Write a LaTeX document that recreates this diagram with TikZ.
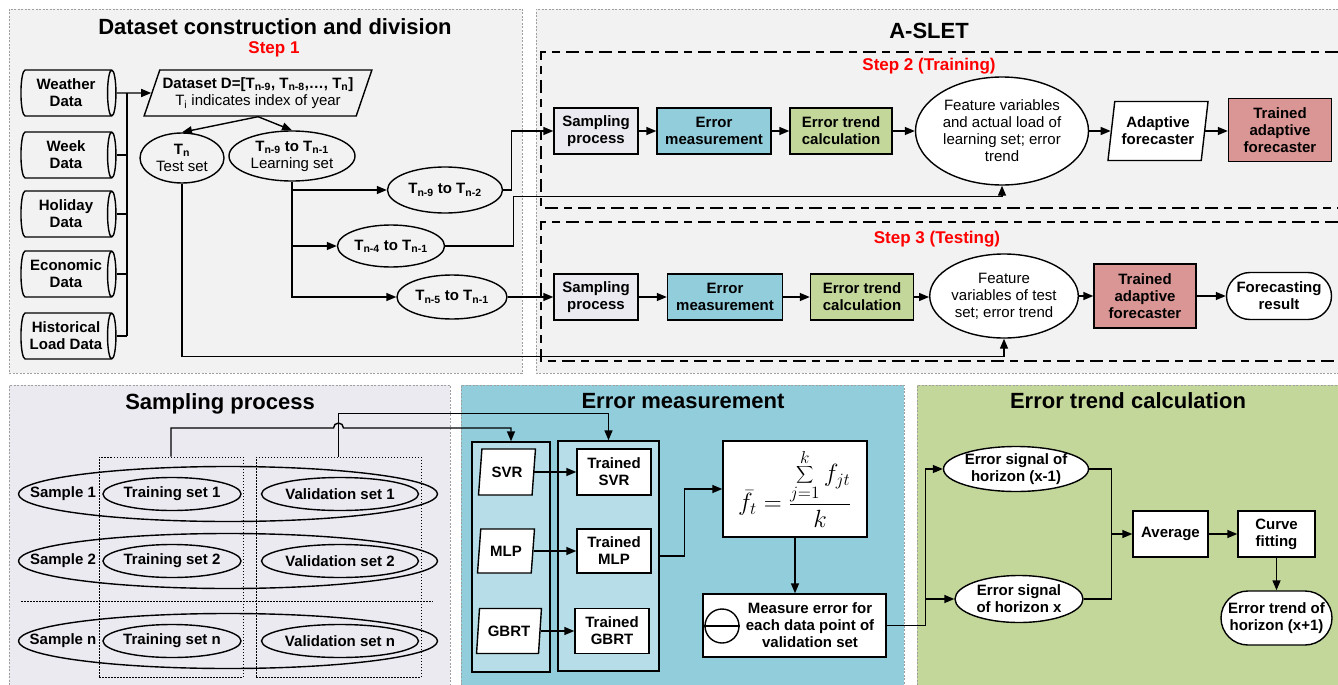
\documentclass[tikz,border=0pt]{standalone}
\usepackage{fontspec}
\setmainfont{Liberation Sans}
\usetikzlibrary{arrows.meta,shapes.geometric,shapes.misc}
\definecolor{panelgray}{HTML}{F2F2F2}
\definecolor{lavender}{HTML}{ECEAF1}
\definecolor{skyblue}{HTML}{92CDDC}
\definecolor{paleblue}{HTML}{B7DEE8}
\definecolor{sage}{HTML}{C4D79B}
\definecolor{rosewood}{HTML}{DA9694}
\definecolor{stepred}{HTML}{FF0000}
\newcommand{\bodysize}{\fontsize{15}{17}\selectfont}
\newcommand{\titlesize}{\fontsize{22}{26}\selectfont\bfseries}
\newcommand{\stepsize}{\fontsize{17}{20}\selectfont\bfseries}

\begin{document}
\begin{tikzpicture}[x=1pt, y=-1pt,
    every node/.style={font=\bodysize},
    panel/.style={draw=gray!75, line width=0.8pt, dash pattern=on 2pt off 1.5pt},
    stepframe/.style={line width=1.5pt, dash pattern=on 13pt off 6pt on 8pt off 6pt},
    wire/.style={line width=1.4pt},
    arr/.style={-{Triangle[length=10pt,width=8pt]}, line width=1.4pt},
    box/.style={rectangle, draw, line width=1.4pt, align=center, inner sep=2pt,
        minimum height=46pt, font=\bodysize\bfseries},
    oval/.style={ellipse, draw, line width=1.4pt, inner sep=0pt, align=center},
    drum/.style={cylinder, draw, line width=1.4pt, shape aspect=0.3, inner sep=0pt,
        minimum width=46pt, minimum height=95pt, align=center, font=\bodysize\bfseries},
    slantbox/.style={trapezium, trapezium stretches=true, draw, line width=1.4pt,
        inner sep=1pt, align=center},
    colbox/.style={rectangle, draw, line width=1pt, dash pattern=on 1.5pt off 1.5pt,
        minimum height=220pt},
    colfill/.style={rectangle, draw, line width=1.4pt, fill=paleblue, minimum height=230pt},
]
\useasboundingbox (0,0) rectangle (1338,685);

% Panels
\fill[panelgray] (9,9) rectangle (522,373);
\draw[panel] (9,9) rectangle (522,373);
\fill[panelgray] (536,9) rectangle (1338,373);
\draw[panel] (1338,9) -- (536,9) -- (536,373) -- (1338,373);
\fill[lavender] (9,385) rectangle (450,685);
\draw[panel] (9,685) -- (9,385) -- (450,385) -- (450,685);
\fill[skyblue] (461,385) rectangle (904,685);
\draw[panel] (461,685) -- (461,385) -- (904,385) -- (904,685);
\fill[sage] (917,385) rectangle (1338,685);
\draw[panel] (917,685) -- (917,385) -- (1338,385);

\node[font=\titlesize] (titledata) at (275,27) {Dataset construction and division};
\node[font=\stepsize, text=stepred] (stepone) at (274,49) {Step 1};
\node[font=\titlesize] (titleaslet) at (929,31) {A-SLET};
\node[font=\titlesize] (titlesampling) at (220,404) {Sampling process};
\node[font=\titlesize] (titleerror) at (683,401) {Error measurement};
\node[font=\titlesize] (titletrend) at (1128,401) {Error trend calculation};

% Dataset construction
\node[drum] (weather) at (66,93) {Weather\\Data};
\node[drum] (week) at (66,155) {Week\\Data};
\node[drum] (holiday) at (66,214) {Holiday\\Data};
\node[drum] (economic) at (66,274) {Economic\\Data};
\node[drum] (histload) at (66,336) {Historical\\Load Data};
\coordinate (bustop) at (127,93);
\foreach \c in {week,holiday,economic,histload}
    \draw[wire] (\c.east) -- (\c.east -| bustop);
\draw[wire] (histload.east -| bustop) -- (bustop);

\node[slantbox, trapezium left angle=65, trapezium right angle=115,
    minimum width=228pt, minimum height=46pt] (dataset) at (258,93)
    {\textbf{Dataset D=[T\textsubscript{n-9}, T\textsubscript{n-8},…, T\textsubscript{n}]}\\
     T\textsubscript{i} indicates index of year};
\draw[arr] (weather.east) -- (dataset.west);

\node[oval, minimum width=84pt, minimum height=50pt] (testset) at (182,158)
    {\textbf{T\textsubscript{n}}\\Test set};
\node[oval, minimum width=126pt, minimum height=50pt] (learnset) at (292,156)
    {\textbf{T\textsubscript{n-9} to T\textsubscript{n-1}}\\Learning set};
\draw[arr] (dataset.south) -- (testset.north);
\draw[arr] (dataset.south) -- (learnset.north);

\node[oval, minimum width=115pt, minimum height=46pt, font=\bodysize\bfseries] (subsetA) at (445,190)
    {T\textsubscript{n-9} to T\textsubscript{n-2}};
\node[oval, minimum width=107pt, minimum height=42pt, font=\bodysize\bfseries] (subsetB) at (391,246)
    {T\textsubscript{n-4} to T\textsubscript{n-1}};
\node[oval, minimum width=110pt, minimum height=44pt, font=\bodysize\bfseries] (subsetC) at (452,297)
    {T\textsubscript{n-5} to T\textsubscript{n-1}};
\draw[arr] (learnset.south) |- (subsetC.west);
\draw[arr] (learnset.south |- subsetA.west) -- (subsetA.west);
\draw[arr] (learnset.south |- subsetB.west) -- (subsetB.west);

% A-SLET, step 2
\draw[stepframe] (1338,52) -- (541,52) -- (541,208) -- (1338,208);
\node[font=\stepsize, text=stepred] (steptwo) at (929,66) {Step 2 (Training)};
\node[box, fill=lavender, minimum width=84pt] (samptrain) at (596,131) {Sampling\\process};
\node[box, fill=skyblue, minimum width=114pt] (errtrain) at (714,131) {Error\\measurement};
\node[box, fill=sage, minimum width=102pt] (trendtrain) at (841,131) {Error trend\\calculation};
\node[oval, fill=white, minimum width=173pt, minimum height=108pt] (feattrain) at (1002,131)
    {Feature variables\\and actual load of\\learning set; error\\trend};
\node[slantbox, fill=white, trapezium left angle=79, trapezium right angle=101,
    minimum width=101pt, minimum height=59pt, font=\bodysize\bfseries] (adaptive) at (1158,131)
    {Adaptive\\forecaster};
\node[box, fill=rosewood, minimum width=103pt, minimum height=63pt] (trainedtrain) at (1280,130)
    {Trained\\adaptive\\forecaster};
\foreach \a/\b in {samptrain/errtrain, errtrain/trendtrain, trendtrain/feattrain,
    feattrain/adaptive, adaptive/trainedtrain}
    \draw[arr] (\a.east) -- (\a.east -| \b.west);

% A-SLET, step 3
\draw[stepframe] (1338,222) -- (541,222) -- (541,361) -- (1338,361);
\node[font=\stepsize, text=stepred] (stepthree) at (937,239) {Step 3 (Testing)};
\node[box, fill=lavender, minimum width=84pt] (samptest) at (596,297) {Sampling\\process};
\node[box, fill=skyblue, minimum width=115pt] (errtest) at (725,297) {Error\\measurement};
\node[box, fill=sage, minimum width=103pt] (trendtest) at (862,297) {Error trend\\calculation};
\node[oval, fill=white, minimum width=145pt, minimum height=84pt] (feattest) at (1004,296)
    {Feature\\variables of test\\set; error trend};
\node[box, fill=rosewood, minimum width=102pt, minimum height=64pt] (trainedtest) at (1145,296)
    {Trained\\adaptive\\forecaster};
\node[rounded rectangle, draw, line width=1.4pt, fill=white, align=center, inner sep=1pt,
    minimum width=107pt, minimum height=47pt, font=\bodysize\bfseries] (result) at (1279,296)
    {Forecasting\\result};
\foreach \a/\b in {samptest/errtest, errtest/trendtest, trendtest/feattest,
    feattest/trainedtest, trainedtest/result}
    \draw[arr] (\a.east) -- (\a.east -| \b.west);

% Links into A-SLET
\draw[arr] (subsetA.east) -- ++(8,0) |- (samptrain.west);
\draw[arr] (subsetB.east) -- ++(68,0) |- ([yshift=-11pt]feattrain.south) -- (feattrain.south);
\draw[arr] (subsetC.east) -- (samptest.west);
\draw[arr] (testset.south) |- ([yshift=-18pt]feattest.south) -- (feattest.south);

% Sampling process
\node[colbox, minimum width=144pt] (traincol) at (171,567) {};
\node[colbox, minimum width=165pt] (valcol) at (338.5,567) {};
\foreach \y/\k in {494/1, 561/2, 641/n} {
    \node[oval, minimum width=419pt, minimum height=55pt] (sample\k) at (228,\y) {};
    \node[font=\bodysize\bfseries] (samplabel\k) at (63,\y) {Sample \k};
    \node[oval, minimum width=138pt, minimum height=33pt, font=\bodysize\bfseries] (train\k) at (172,\y)
        {Training set \k};
    \node[oval, minimum width=157pt, minimum height=33pt, font=\bodysize\bfseries] (valid\k) at (340,\y)
        {Validation set \k};
}
\draw[line width=1pt, dash pattern=on 1.5pt off 1.5pt] (21,601) -- (433,601);

% Error measurement
\node[colfill, minimum width=78pt] (modelcol) at (511,557) {};
\node[colfill, minimum width=101pt] (trainedcol) at (608.5,556) {};
\node[slantbox, fill=white, trapezium left angle=80, trapezium right angle=100,
    minimum width=57pt, minimum height=46pt, font=\bodysize\bfseries] (svr) at (507,472) {SVR};
\node[slantbox, fill=white, trapezium left angle=80, trapezium right angle=100,
    minimum width=57pt, minimum height=44pt, font=\bodysize\bfseries] (mlp) at (506,551) {MLP};
\node[slantbox, fill=white, trapezium left angle=80, trapezium right angle=100,
    minimum width=65pt, minimum height=45pt, font=\bodysize\bfseries] (gbrt) at (509,631) {GBRT};
\node[box, fill=white, minimum width=74pt] (tsvr) at (614,472) {Trained\\SVR};
\node[box, fill=white, minimum width=74pt, minimum height=44pt] (tmlp) at (614,551) {Trained\\MLP};
\node[box, fill=white, minimum width=74pt, minimum height=45pt] (tgbrt) at (612,631) {Trained\\GBRT};
\draw[arr] (svr.east) -- (svr.east -| tsvr.west);
\draw[arr] (mlp.east) -- (mlp.east -| tmlp.west);
\draw[arr] (gbrt.east) -- (gbrt.east -| tgbrt.west);

\draw[arr] (traincol.north) |- (333.5,428) arc[start angle=180, end angle=0, radius=5pt]
    -| (modelcol.north);
\draw[arr] (valcol.north) |- ([yshift=27pt]trainedcol.north) -- (trainedcol.north);

\node[box, fill=white, minimum width=144pt, minimum height=96pt] (avgformula) at (795,489)
    {\scalebox{1.2}{\fontsize{20.74}{25}\selectfont
     $\displaystyle \bar{f}_t = \frac{\displaystyle\sum_{j=1}^{k} f_{jt}}{k}$}};
\draw[arr] (trainedcol.east) -- ++(25,0) |- (avgformula.west);

\node[box, fill=white, minimum width=183pt, minimum height=63pt] (measure) at (794.5,625.5) {};
\node[circle, draw, line width=1.4pt, minimum size=34pt, inner sep=0pt] (minus) at (722,626) {};
\draw[wire] (minus.west) -- (minus.east);
\node[font=\bodysize\bfseries, align=center] (meastext) at (810,625)
    {Measure error for\\each data point of\\validation set};
\draw[arr] (avgformula.south) -- (avgformula.south |- measure.north);

% Error trend calculation
\node[oval, fill=white, minimum width=138pt, minimum height=45pt, font=\bodysize\bfseries] (errsigprev)
    at (1016,469) {Error signal of\\horizon (x-1)};
\node[oval, fill=white, minimum width=128pt, minimum height=47pt, font=\bodysize\bfseries] (errsigcur)
    at (1019,599) {Error signal\\of horizon x};
\node[box, fill=white, minimum width=75pt] (average) at (1170.5,534) {Average};
\node[box, fill=white, minimum width=77pt] (curvefit) at (1276.5,534) {Curve\\fitting};
\node[rounded rectangle, draw, line width=1.4pt, fill=white, align=center, inner sep=1pt,
    minimum width=113pt, minimum height=54pt, font=\bodysize\bfseries] (trendnext) at (1276.5,618)
    {Error trend of\\horizon (x+1)};

\draw[wire] (measure.east) -- ++(39,0) coordinate (fork);
\draw[arr] (fork) |- (errsigprev.west);
\draw[arr] (fork) |- (errsigcur.west);
\coordinate (merge) at ([xshift=-21pt]average.west);
\draw[wire] (errsigprev.east) -| (merge);
\draw[wire] (errsigcur.east) -| (merge);
\draw[arr] (merge) -- (average.west);
\draw[arr] (average.east) -- (curvefit.west);
\draw[arr] (curvefit.south) -- (trendnext.north);
\end{tikzpicture}
\end{document}
